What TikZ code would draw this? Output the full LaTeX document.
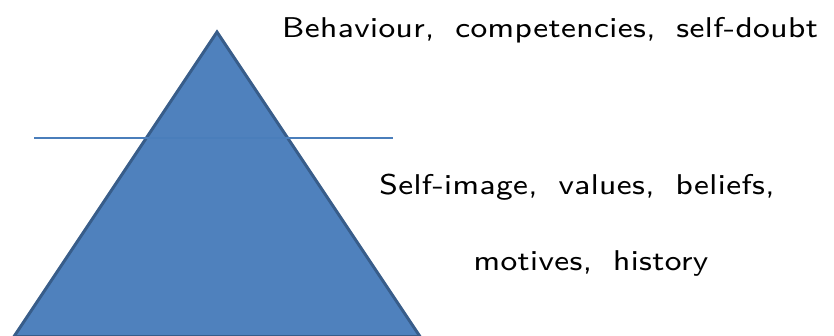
\documentclass[tikz,border=0pt]{standalone}
\usepackage{fontspec}
\newfontfamily\lblfam{lmsans8-regular}[Extension=.otf, FakeStretch=1.1, LetterSpace=1.5, WordSpace=1.8]
\definecolor{pyrfill}{HTML}{4F81BD}
\definecolor{pyredge}{HTML}{385D8A}
\definecolor{sepline}{HTML}{4A7EBB}
\tikzset{
  lbl/.style={anchor=base, inner sep=0pt, font=\lblfam\fontsize{28.6}{34}\selectfont, text=black},
  pyr/.style={fill=pyrfill, draw=pyredge, line width=3pt, line join=miter},
  sep/.style={draw=sepline, line width=2pt}
}
\begin{document}
\begin{tikzpicture}[x=1pt,y=-1pt]
\useasboundingbox (0,0) rectangle (834,336);
\coordinate (apex) at (217,32);
\coordinate (bl) at (14,336.5);
\coordinate (br) at (420,336.5);
\draw[pyr] (apex) -- (br) -- (bl) -- cycle;
\coordinate (sl) at (34,138);
\coordinate (sr) at (393,138);
\draw[sep] (sl) -- (sr);
\node[lbl] (top) at (550,38) {Behaviour, competencies, self-doubt};
\node[lbl] (mid) at (577,195) {Self-image, values, beliefs,};
\node[lbl] (bot) at (591,270) {motives, history};
\end{tikzpicture}
\end{document}
